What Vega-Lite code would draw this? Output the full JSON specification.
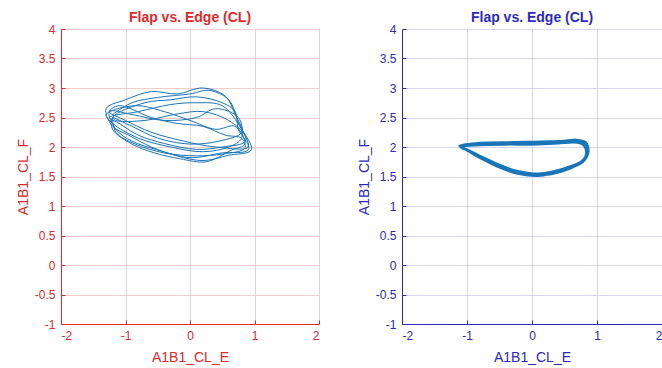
{
  "$schema": "https://vega.github.io/schema/vega-lite/v6.json",
  "padding": {"left": 15, "top": 10, "right": 0, "bottom": 0},
  "background": "white",
  "spacing": 36,
  "config": {
    "font": "Liberation Sans",
    "title": {"fontSize": 14, "fontWeight": "bold", "offset": -2},
    "axis": {"labelFontSize": 12, "titleFontSize": 14, "titleFontWeight": "normal", "gridWidth": 1, "domainWidth": 1, "tickSize": -4, "labelPadding": 10,
      "labelExpr": "datum.value < 0 ? '-' + format(-datum.value, '~g') : format(datum.value, '~g')"}
  },
  "datasets": {
    "left": [
      {"i":1,"x":-1.2,"y":2.55},{"i":2,"x":-0.9,"y":2.75},{"i":3,"x":-0.5,"y":2.84},{"i":4,"x":0.0,"y":2.9},{"i":5,"x":0.3,"y":2.96},{"i":6,"x":0.6,"y":2.8},{"i":7,"x":0.75,"y":2.42},{"i":8,"x":0.86,"y":2.1},{"i":9,"x":0.5,"y":2.0},{"i":10,"x":0.1,"y":1.96},{"i":11,"x":-0.4,"y":2.06},{"i":12,"x":-0.8,"y":2.2},{"i":13,"x":-1.1,"y":2.4},
      {"i":14,"x":-1.25,"y":2.5},{"i":15,"x":-0.8,"y":2.6},{"i":16,"x":-0.3,"y":2.72},{"i":17,"x":0.1,"y":2.75},{"i":18,"x":0.5,"y":2.7},{"i":19,"x":0.8,"y":2.3},{"i":20,"x":0.95,"y":1.95},{"i":21,"x":0.6,"y":1.86},{"i":22,"x":0.2,"y":1.77},{"i":23,"x":-0.2,"y":1.85},{"i":24,"x":-0.6,"y":2.0},{"i":25,"x":-0.95,"y":2.2},{"i":26,"x":-1.2,"y":2.35},
      {"i":27,"x":-1.3,"y":2.65},{"i":28,"x":-1.0,"y":2.8},{"i":29,"x":-0.6,"y":2.94},{"i":30,"x":-0.2,"y":2.9},{"i":31,"x":0.2,"y":3.0},{"i":32,"x":0.55,"y":2.86},{"i":33,"x":0.7,"y":2.55},{"i":34,"x":0.8,"y":2.25},{"i":35,"x":0.45,"y":2.1},{"i":36,"x":0.0,"y":2.05},{"i":37,"x":-0.5,"y":2.15},{"i":38,"x":-0.9,"y":2.35},{"i":39,"x":-1.2,"y":2.5},
      {"i":40,"x":-1.15,"y":2.45},{"i":41,"x":-0.7,"y":2.45},{"i":42,"x":-0.2,"y":2.56},{"i":43,"x":0.2,"y":2.6},{"i":44,"x":0.6,"y":2.45},{"i":45,"x":0.85,"y":2.2},{"i":46,"x":0.9,"y":1.95},{"i":47,"x":0.5,"y":1.9},{"i":48,"x":0.0,"y":1.82},{"i":49,"x":-0.5,"y":1.95},{"i":50,"x":-0.9,"y":2.1},{"i":51,"x":-1.15,"y":2.3},
      {"i":52,"x":-1.25,"y":2.6},{"i":53,"x":-0.9,"y":2.55},{"i":54,"x":-0.4,"y":2.45},{"i":55,"x":0.1,"y":2.5},{"i":56,"x":0.4,"y":2.65},{"i":57,"x":0.75,"y":2.5},{"i":58,"x":0.8,"y":2.15},{"i":59,"x":0.6,"y":2.0},{"i":60,"x":0.2,"y":1.92},{"i":61,"x":-0.3,"y":2.0},{"i":62,"x":-0.8,"y":2.15},{"i":63,"x":-1.2,"y":2.4},
      {"i":64,"x":-1.3,"y":2.55},{"i":65,"x":-0.85,"y":2.7},{"i":66,"x":-0.4,"y":2.6},{"i":67,"x":0.0,"y":2.45},{"i":68,"x":0.4,"y":2.3},{"i":69,"x":0.7,"y":2.35},{"i":70,"x":0.85,"y":2.05},{"i":71,"x":0.65,"y":1.95},{"i":72,"x":0.25,"y":1.75},{"i":73,"x":-0.15,"y":1.8},{"i":74,"x":-0.55,"y":1.9},{"i":75,"x":-0.9,"y":2.05},{"i":76,"x":-1.2,"y":2.3},
      {"i":77,"x":-1.2,"y":2.5},{"i":78,"x":-0.7,"y":2.75},{"i":79,"x":-0.3,"y":2.8},{"i":80,"x":0.1,"y":2.85},{"i":81,"x":0.5,"y":2.75},{"i":82,"x":0.7,"y":2.6},{"i":83,"x":0.75,"y":2.3},{"i":84,"x":0.9,"y":2.0},{"i":85,"x":0.4,"y":2.0},{"i":86,"x":-0.1,"y":2.1},{"i":87,"x":-0.6,"y":2.25},{"i":88,"x":-1.0,"y":2.45},{"i":89,"x":-1.25,"y":2.6},
      {"i":90,"x":-1.1,"y":2.7},{"i":91,"x":-0.6,"y":2.5},{"i":92,"x":-0.2,"y":2.4},{"i":93,"x":0.2,"y":2.35},{"i":94,"x":0.55,"y":2.2},{"i":95,"x":0.8,"y":2.15},{"i":96,"x":0.85,"y":1.98},{"i":97,"x":0.5,"y":1.88},{"i":98,"x":0.1,"y":1.85},{"i":99,"x":-0.4,"y":1.9},{"i":100,"x":-0.85,"y":2.05},{"i":101,"x":-1.15,"y":2.25},{"i":102,"x":-1.2,"y":2.5}
    ],
    "right": [
      {"i":1,"x":-1.1,"y":2.0},{"i":2,"x":-0.8,"y":2.05},{"i":3,"x":-0.4,"y":2.06},{"i":4,"x":0.0,"y":2.06},{"i":5,"x":0.4,"y":2.08},{"i":6,"x":0.7,"y":2.1},{"i":7,"x":0.82,"y":2.05},{"i":8,"x":0.85,"y":1.9},{"i":9,"x":0.8,"y":1.78},{"i":10,"x":0.6,"y":1.65},{"i":11,"x":0.3,"y":1.55},{"i":12,"x":0.1,"y":1.52},{"i":13,"x":-0.2,"y":1.56},{"i":14,"x":-0.5,"y":1.67},{"i":15,"x":-0.8,"y":1.83},{"i":16,"x":-1.0,"y":1.95},
      {"i":17,"x":-1.12,"y":2.02},{"i":18,"x":-0.8,"y":2.07},{"i":19,"x":-0.4,"y":2.08},{"i":20,"x":0.0,"y":2.07},{"i":21,"x":0.4,"y":2.1},{"i":22,"x":0.72,"y":2.12},{"i":23,"x":0.84,"y":2.06},{"i":24,"x":0.87,"y":1.92},{"i":25,"x":0.8,"y":1.76},{"i":26,"x":0.58,"y":1.63},{"i":27,"x":0.3,"y":1.54},{"i":28,"x":0.1,"y":1.53},{"i":29,"x":-0.2,"y":1.58},{"i":30,"x":-0.5,"y":1.7},{"i":31,"x":-0.8,"y":1.85},{"i":32,"x":-1.0,"y":1.96},
      {"i":33,"x":-1.1,"y":2.0},{"i":34,"x":-0.8,"y":2.03},{"i":35,"x":-0.4,"y":2.04},{"i":36,"x":0.0,"y":2.04},{"i":37,"x":0.4,"y":2.06},{"i":38,"x":0.7,"y":2.07},{"i":39,"x":0.8,"y":2.02},{"i":40,"x":0.83,"y":1.88},{"i":41,"x":0.78,"y":1.77},{"i":42,"x":0.6,"y":1.68},{"i":43,"x":0.3,"y":1.58},{"i":44,"x":0.1,"y":1.55},{"i":45,"x":-0.2,"y":1.59},{"i":46,"x":-0.5,"y":1.69},{"i":47,"x":-0.8,"y":1.84},{"i":48,"x":-1.0,"y":1.95},
      {"i":49,"x":-1.08,"y":2.01},{"i":50,"x":-0.8,"y":2.06},{"i":51,"x":-0.4,"y":2.08},{"i":52,"x":0.0,"y":2.09},{"i":53,"x":0.4,"y":2.1},{"i":54,"x":0.7,"y":2.12},{"i":55,"x":0.83,"y":2.08},{"i":56,"x":0.86,"y":1.93},{"i":57,"x":0.82,"y":1.8},{"i":58,"x":0.62,"y":1.66},{"i":59,"x":0.3,"y":1.55},{"i":60,"x":0.1,"y":1.51},{"i":61,"x":-0.2,"y":1.54},{"i":62,"x":-0.5,"y":1.65},{"i":63,"x":-0.8,"y":1.81},{"i":64,"x":-1.0,"y":1.94},
      {"i":65,"x":-1.1,"y":2.0},{"i":66,"x":-0.8,"y":2.04},{"i":67,"x":-0.4,"y":2.05},{"i":68,"x":0.0,"y":2.07},{"i":69,"x":0.4,"y":2.08},{"i":70,"x":0.7,"y":2.1},{"i":71,"x":0.81,"y":2.04},{"i":72,"x":0.84,"y":1.9},{"i":73,"x":0.79,"y":1.79},{"i":74,"x":0.6,"y":1.66},{"i":75,"x":0.3,"y":1.56},{"i":76,"x":0.1,"y":1.53},{"i":77,"x":-0.2,"y":1.57},{"i":78,"x":-0.5,"y":1.68},{"i":79,"x":-0.8,"y":1.83},{"i":80,"x":-1.0,"y":1.95},{"i":81,"x":-1.1,"y":2.0}
    ]
  },
  "hconcat": [
    {
      "width": 258,
      "height": 295,
      "data": {"name": "left"},
      "title": {"text": "Flap vs. Edge (CL)", "color": "#dd2a2a"},
      "view": {"stroke": "#dd2a2a", "strokeWidth": 1},
      "mark": {"type": "line", "color": "#1a75b8", "strokeWidth": 1, "clip": true, "interpolate": "catmull-rom"},
      "encoding": {
        "order": {"field": "i", "type": "quantitative"},
        "x": {"field": "x", "type": "quantitative", "scale": {"domain": [-2, 2], "nice": false, "zero": false},
          "axis": {"title": "A1B1_CL_E", "titlePadding": 9, "values": [-2, -1, 0, 1, 2], "domainColor": "#dd2a2a", "tickColor": "#dd2a2a", "labelColor": "#dd2a2a", "titleColor": "#dd2a2a", "gridColor": "#f4cccc"}},
        "y": {"field": "y", "type": "quantitative", "scale": {"domain": [-1, 4], "nice": false, "zero": false},
          "axis": {"title": "A1B1_CL_F", "titlePadding": 4, "values": [-1, -0.5, 0, 0.5, 1, 1.5, 2, 2.5, 3, 3.5, 4], "domainColor": "#dd2a2a", "tickColor": "#dd2a2a", "labelColor": "#dd2a2a", "titleColor": "#dd2a2a", "gridColor": "#f4cccc"}}
      }
    },
    {
      "width": 260,
      "height": 295,
      "data": {"name": "right"},
      "title": {"text": "Flap vs. Edge (CL)", "color": "#2a2ac0"},
      "view": {"stroke": "#2a2ac0", "strokeWidth": 1},
      "mark": {"type": "line", "color": "#1a75b8", "strokeWidth": 2, "clip": true, "interpolate": "catmull-rom"},
      "encoding": {
        "order": {"field": "i", "type": "quantitative"},
        "x": {"field": "x", "type": "quantitative", "scale": {"domain": [-2, 2], "nice": false, "zero": false},
          "axis": {"title": "A1B1_CL_E", "titlePadding": 9, "values": [-2, -1, 0, 1, 2], "domainColor": "#2a2ac0", "tickColor": "#2a2ac0", "labelColor": "#2a2ac0", "titleColor": "#2a2ac0", "gridColor": "#d6d6f4"}},
        "y": {"field": "y", "type": "quantitative", "scale": {"domain": [-1, 4], "nice": false, "zero": false},
          "axis": {"title": "A1B1_CL_F", "titlePadding": 4, "values": [-1, -0.5, 0, 0.5, 1, 1.5, 2, 2.5, 3, 3.5, 4], "domainColor": "#2a2ac0", "tickColor": "#2a2ac0", "labelColor": "#2a2ac0", "titleColor": "#2a2ac0", "gridColor": "#d6d6f4"}}
      }
    }
  ]
}
